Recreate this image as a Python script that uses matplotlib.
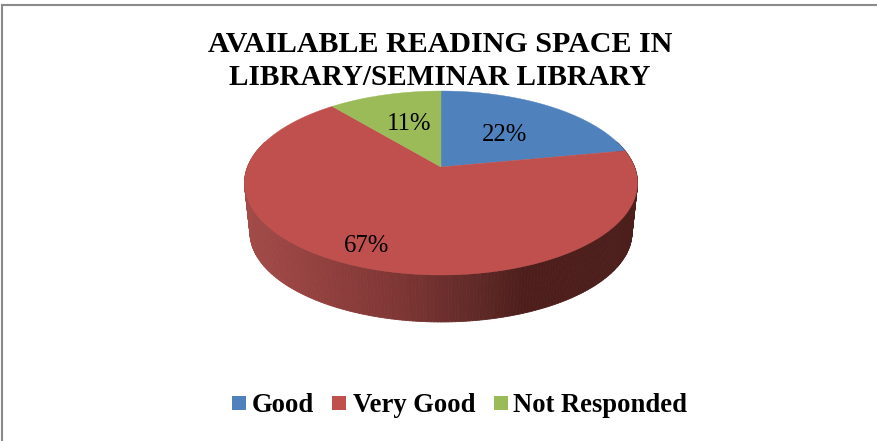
"""3D-style pie chart of available reading space, with a perspective tilt."""

import matplotlib
matplotlib.use('Agg')
import matplotlib.pyplot as plt
from matplotlib.collections import PolyCollection
from matplotlib.patches import Rectangle
import numpy as np


TITLE_LINES = ['AVAILABLE READING SPACE IN', 'LIBRARY/SEMINAR LIBRARY']
CATEGORIES = ['Good', 'Very Good', 'Not Responded']
VALUES = [22, 67, 11]
COLORS = ['#4F81BD', '#C0504D', '#9BBB59']
LABEL_POS = [(505, 135), (367, 246), (409, 124)]
LEGEND_X = [232, 332, 494]
LEGEND_TEXT_X = [252, 353, 513]

W, H = 877, 441
CX, CY = 441, 167        # pixel position of the pie apex
RX = 193.5               # horizontal radius
TILT = 89.2              # vertical scale
PERSP = 0.174            # perspective strength
DEPTH = 50               # apex shift of the lower rim
BOTTOM_SCALE = 0.972     # lower rim is a bit narrower


def project(theta, scale=1.0, dy=0.0):
    """Map clockwise-from-top angles on the unit disk to pixels."""
    u = np.sin(theta)
    v = np.cos(theta)
    d = 1 + PERSP * v
    return CX + scale * RX * u / d, CY + dy - scale * TILT * v / d


def side_color(x):
    """Shade of the red wall, from lit left side to dark right side."""
    stops_x = [244, 300, 400, 480, 525, 640]
    stops_rgb = np.array([[0xA2, 0x4B, 0x49], [0x97, 0x43, 0x41], [0x7D, 0x36, 0x34],
                          [0x5F, 0x29, 0x27], [0x4D, 0x1E, 0x1C], [0x4C, 0x1E, 0x1C]]) / 255
    return [np.interp(x, stops_x, stops_rgb[:, i]) for i in range(3)]


def main():
    fig = plt.figure(figsize=(W / 100, H / 100), dpi=100, facecolor='white')
    ax = fig.add_axes([0, 0, 1, 1])
    ax.set_xlim(0, W)
    ax.set_ylim(H, 0)
    ax.axis('off')

    # chart frame, only top and left edges are in the crop
    ax.plot([1.5, 1.5, W], [H, 4.5, 4.5], color='#8a8a8a', lw=1.5, solid_joinstyle='miter')

    # side wall, drawn as thin quads around the front half
    angles = np.linspace(np.pi / 2 - 0.3, 3 * np.pi / 2 + 0.3, 241)
    xt, yt = project(angles)
    xb, yb = project(angles, BOTTOM_SCALE, DEPTH)
    quads = []
    shades = []
    for i in range(len(angles) - 1):
        quads.append([(xt[i], yt[i]), (xt[i + 1], yt[i + 1]),
                      (xb[i + 1], yb[i + 1]), (xb[i], yb[i])])
        shades.append(side_color((xt[i] + xt[i + 1]) / 2))
    ax.add_collection(PolyCollection(quads, facecolors=shades, edgecolors=shades, linewidths=0.6))

    # top face
    edges = np.cumsum([0] + VALUES) / sum(VALUES) * 2 * np.pi
    for start, end, color in zip(edges[:-1], edges[1:], COLORS):
        theta = np.linspace(start, end, 200)
        x, y = project(theta)
        ax.fill(np.r_[CX, x], np.r_[CY, y], color=color, lw=0.3)

    for value, (x, y) in zip(VALUES, LABEL_POS):
        ax.text(x, y, f'{value}%', ha='center', va='center', color='black',
                fontsize=17.8, family='Liberation Serif')

    for line, y, size in zip(TITLE_LINES, [52, 85], [21.6, 21.1]):
        ax.text(440, y, line, ha='center', va='baseline', fontsize=size, fontweight='bold',
                family='Liberation Serif', color='black')

    # legend
    for name, color, x, text_x in zip(CATEGORIES, COLORS, LEGEND_X, LEGEND_TEXT_X):
        ax.add_patch(Rectangle((x, 396), 14, 14, facecolor=color, edgecolor='none'))
        ax.text(text_x, 405, name, ha='left', va='center', fontsize=19.2, fontweight='bold',
                family='Liberation Serif', color='black')

    fig.savefig('out.png', dpi=100)
    plt.close(fig)


if __name__ == '__main__':
    main()
